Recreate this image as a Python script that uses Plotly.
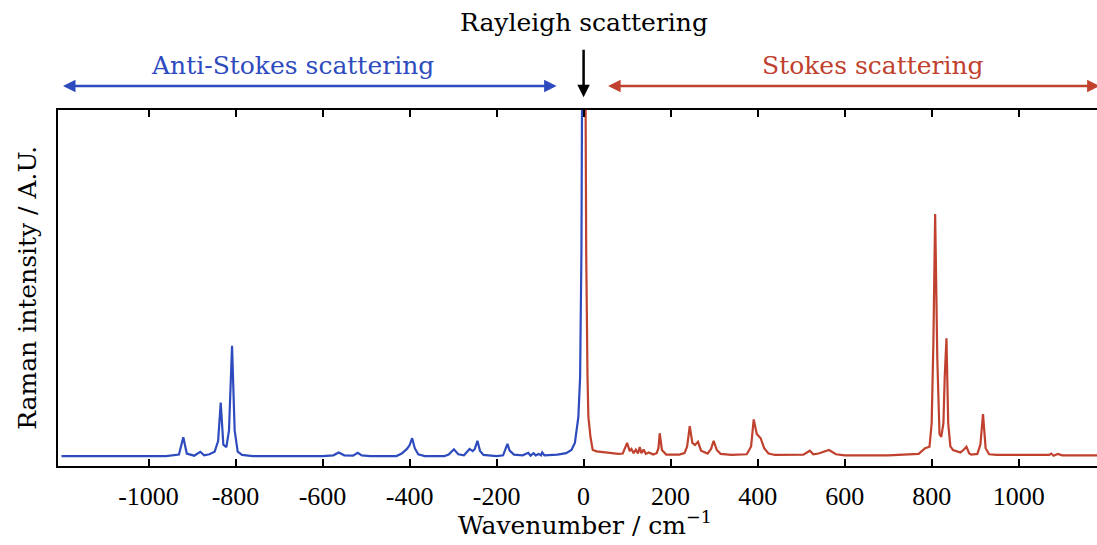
import plotly.graph_objects as go

# Anti-Stokes (blue) spectrum: wavenumber / intensity (A.U., plot height = 100)
anti_x = [-1200, -960, -930, -920, -912, -895, -881, -872, -860, -848, -840, -834, -828, -821, -815,
          -808, -802, -795, -785, -760, -600, -575, -563, -550, -530, -519, -510, -490, -430, -418,
          -406, -400, -394, -388, -380, -365, -320, -310, -298, -288, -275, -262, -255, -250, -244,
          -238, -230, -200, -185, -175, -170, -160, -140, -127, -122, -115, -110, -103, -98, -95,
          -90, -60, -40, -28, -20, -12, -8, -5, -2]
anti_y = [2.8, 2.8, 3.2, 8.1, 3.5, 2.9, 4.0, 3.0, 3.3, 4.0, 7.0, 17.8, 6.0, 5.3, 10.0,
          33.8, 10.0, 4.0, 3.1, 2.8, 2.8, 3.0, 3.8, 3.0, 2.9, 3.7, 3.0, 2.8, 2.8, 3.5,
          4.8, 5.8, 7.8, 5.0, 3.3, 2.8, 2.8, 3.2, 4.7, 3.3, 3.0, 4.8, 4.2, 4.8, 7.1,
          4.2, 3.1, 2.8, 3.0, 6.2, 4.3, 3.2, 3.0, 3.7, 2.9, 3.6, 3.0, 3.4, 3.0, 3.8,
          3.0, 3.2, 3.6, 4.5, 6.5, 13.8, 25.0, 60.0, 150.0]

# Stokes (red) spectrum
stokes_x = [3, 6, 9, 11, 16, 21, 30, 50, 80, 90, 100, 106, 110, 115, 120, 125, 129, 133, 138, 143,
            150, 160, 168, 172, 175, 180, 190, 220, 232, 238, 244, 250, 256, 263, 270, 285, 293, 299,
            306, 315, 340, 375, 385, 391, 398, 407, 415, 425, 440, 505, 520, 528, 540, 564, 580, 600,
            700, 770, 785, 795, 800, 804, 808, 813, 818, 822, 827, 830, 834, 838, 843, 849, 858, 866,
            873, 880, 886, 891, 905, 912, 918, 924, 932, 950, 1070, 1075, 1080, 1090, 1100, 1185]
stokes_y = [150.0, 60.0, 25.0, 13.8, 8.0, 4.5, 4.1, 3.8, 3.4, 3.5, 6.5, 4.2, 4.8, 3.6, 4.6, 3.5, 5.3, 3.6, 4.6, 3.4,
            3.8, 3.2, 3.6, 5.0, 9.2, 4.5, 3.2, 3.2, 3.6, 5.5, 11.2, 6.5, 5.9, 6.8, 4.3, 3.5, 4.8, 7.1,
            4.5, 3.4, 3.1, 3.3, 5.5, 13.1, 9.0, 7.8, 5.0, 3.5, 3.1, 3.2, 4.3, 3.3, 3.5, 4.5, 3.3, 3.0,
            3.0, 3.4, 5.0, 5.4, 12.0, 35.0, 70.8, 30.0, 9.0, 8.2, 12.0, 25.0, 35.9, 12.0, 5.5, 4.5, 4.2, 3.8,
            4.5, 5.4, 3.6, 3.2, 3.4, 6.0, 14.6, 5.0, 3.3, 3.1, 3.1, 3.5, 2.9, 3.4, 3.0, 3.0]

tick_vals = [-1000, -800, -600, -400, -200, 0, 200, 400, 600, 800, 1000]
tick_text = ["-1000", "-800", "-600", "-400", "-200", "0", "200", "400", "600", "800", "1000"]

BLUE = "#2E4BBE"
RED = "#C0412E"
TEXT_FONT = "DejaVu Serif"
TICK_FONT = "Liberation Serif"
FS = 25

fig = go.Figure()
fig.add_trace(go.Scatter(x=anti_x, y=anti_y, mode="lines", line=dict(color=BLUE, width=2.2), showlegend=False))
fig.add_trace(go.Scatter(x=stokes_x, y=stokes_y, mode="lines", line=dict(color=RED, width=2.2), showlegend=False))

X0, X1 = -1208, 1180

fig.update_layout(
    width=1097, height=545,
    margin=dict(l=58, r=0, t=110, b=79),
    plot_bgcolor="white", paper_bgcolor="white",
    font=dict(family=TEXT_FONT, size=FS, color="black"),
    xaxis=dict(range=[X0, X1], tickvals=tick_vals, ticktext=tick_text, ticks="inside", ticklen=7,
               tickwidth=2, tickcolor="black", showline=True, linecolor="black", linewidth=2,
               mirror="ticks", showgrid=False, zeroline=False, ticklabelstandoff=6,
               tickfont=dict(family=TICK_FONT, size=26, color="black")),
    yaxis=dict(range=[0, 100], showticklabels=False, ticks="", showline=True, linecolor="black",
               linewidth=2, showgrid=False, zeroline=False),
)

ann = []
# axis titles
ann.append(dict(text="Wavenumber / cm<sup>−1</sup>", xref="paper", yref="paper", x=0.507, y=-0.214,
                xanchor="center", yanchor="bottom", showarrow=False, font=dict(size=25)))
ann.append(dict(text="Raman intensity / A.U.", xref="paper", yref="paper", x=-0.03, y=0.5,
                xanchor="center", yanchor="middle", textangle=-90, showarrow=False, font=dict(size=25)))
# labels above plot
ann.append(dict(text="Rayleigh scattering", xref="x", yref="paper", x=0, y=1.247,
                xanchor="center", yanchor="middle", showarrow=False, font=dict(size=FS, color="black")))
ann.append(dict(text="Anti-Stokes scattering", xref="x", yref="paper", x=-668, y=1.124,
                xanchor="center", yanchor="middle", showarrow=False, font=dict(size=FS, color=BLUE)))
ann.append(dict(text="Stokes scattering", xref="x", yref="paper", x=665, y=1.124,
                xanchor="center", yanchor="middle", showarrow=False, font=dict(size=FS, color=RED)))
# arrows
ann.append(dict(text="", x=-62, y=1.0674, xref="x", yref="paper", ax=-1200, ay=0, axref="x", ayref="pixel",
                showarrow=True, arrowhead=2, arrowside="end+start", arrowsize=1, arrowwidth=2.5, arrowcolor=BLUE))
ann.append(dict(text="", x=1186, y=1.0674, xref="x", yref="paper", ax=53, ay=0, axref="x", ayref="pixel",
                showarrow=True, arrowhead=2, arrowside="end+start", arrowsize=1, arrowwidth=2.5, arrowcolor=RED))
ann.append(dict(text="", x=0, y=1.036, xref="x", yref="paper", ax=0, ay=-49, axref="pixel", ayref="pixel",
                showarrow=True, arrowhead=2, arrowsize=1, arrowwidth=2.5, arrowcolor="black"))
fig.update_layout(annotations=ann)

fig.write_html("out.html")
